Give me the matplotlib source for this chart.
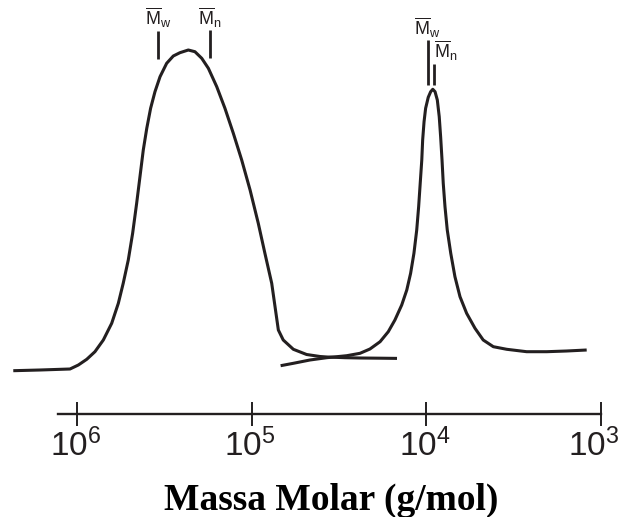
import numpy as np
import matplotlib
matplotlib.use("Agg")
import matplotlib.pyplot as plt
import matplotlib.transforms as mtransforms

plt.rcParams['mathtext.fontset'] = 'custom'
plt.rcParams['mathtext.rm'] = 'Liberation Sans'
plt.rcParams['mathtext.it'] = 'Liberation Sans:italic'
plt.rcParams['mathtext.bf'] = 'Liberation Sans:bold'
plt.rcParams['font.family'] = ['Liberation Sans', 'DejaVu Sans']

INK = '#231f20'

# ---- data (log10 of molar mass, detector signal in arbitrary units) ----
peak1_logM = [6.368, 6.215, 6.043, 5.995, 5.947, 5.900, 5.852, 5.804, 5.766, 5.738,
              5.709, 5.684, 5.661, 5.642, 5.623, 5.603, 5.581, 5.556, 5.527, 5.489,
              5.451, 5.413, 5.365, 5.327, 5.288, 5.250, 5.202, 5.155, 5.107, 5.059,
              5.011, 4.964, 4.926, 4.887, 4.849, 4.821, 4.763, 4.687, 4.610, 4.570,
              4.467, 4.381, 4.266, 4.169]
peak1_signal = [0.3, 1, 2, 6, 11.7, 19.3, 31, 47.7, 67.7, 87.7,
                111, 137.7, 167.7, 194.3, 221, 242.7, 262.7, 279.3, 294.3, 307.7,
                315, 318.3, 321, 319.3, 312.7, 302.7, 284.3, 262.7, 237.7, 211,
                181, 147.7, 117.7, 87.7, 41, 31, 21.7, 16.5, 14.5, 14,
                13.3, 13, 12.8, 12.6]

peak2_logM = [4.836, 4.763, 4.668, 4.572, 4.457, 4.381, 4.324, 4.266, 4.219, 4.181,
              4.142, 4.113, 4.091, 4.072, 4.056, 4.045, 4.036, 4.027, 4.022, 4.014,
              4.005, 3.990, 3.976, 3.964, 3.951, 3.938, 3.927, 3.919, 3.911, 3.904,
              3.894, 3.881, 3.861, 3.837, 3.808, 3.770, 3.722, 3.675, 3.617, 3.540,
              3.426, 3.311, 3.197, 3.082]
peak2_signal = [5.3, 7.7, 11, 13.3, 15.3, 17.7, 22, 29.3, 39.3, 51,
                66, 81, 97.7, 117.7, 141, 164.3, 187.7, 211, 231, 249.3,
                262.7, 273.7, 279.3, 281.7, 279.3, 271, 254.3, 234.3, 211, 187.7,
                164.3, 141, 117.7, 94.3, 74.3, 57.7, 42.7, 31, 24.3, 21.7,
                19.3, 19.3, 20, 21]

# average molar masses (log10) and marker extents (signal units)
marker_labels = [r'$\overline{\mathrm{M}}_{\mathrm{w}}$', r'$\overline{\mathrm{M}}_{\mathrm{n}}$',
                 r'$\overline{\mathrm{M}}_{\mathrm{w}}$', r'$\overline{\mathrm{M}}_{\mathrm{n}}$']
marker_logM = [5.539, 5.241, 3.994, 3.957]
marker_bottom = [312, 313, 286, 286]
marker_top = [340, 341, 331, 307]
label_y = [346, 346, 336, 313]
label_ha = ['center', 'center', 'center', 'left']

tick_values = [1e6, 1e5, 1e4, 1e3]
tick_labels = [r'$\mathrm{10^{6}}$', r'$\mathrm{10^{5}}$', r'$\mathrm{10^{4}}$', r'$\mathrm{10^{3}}$']
xlabel = 'Massa Molar (g/mol)'

# ---- figure ----
W, H = 623, 517
fig = plt.figure(figsize=(W / 100, H / 100), dpi=100)
ax = fig.add_axes([0, 103 / H, 1, 414 / H])
ax.set_xscale('log')
ax.set_xlim(10 ** 6.4441, 10 ** 2.8739)
ax.set_ylim(-43, 371)

ax.plot(10 ** np.array(peak1_logM), peak1_signal, color=INK, lw=2.2,
        solid_joinstyle='round', solid_capstyle='butt')
ax.plot(10 ** np.array(peak2_logM), peak2_signal, color=INK, lw=2.2,
        solid_joinstyle='round', solid_capstyle='butt')

for lab, lm, yb, yt, ly, ha in zip(marker_labels, marker_logM, marker_bottom,
                                   marker_top, label_y, label_ha):
    xm = 10 ** lm
    ax.vlines(xm, yb, yt, color=INK, lw=2.0)
    ax.text(xm, ly, lab, ha=ha, va='baseline', fontsize=13, color=INK)

for s in ['left', 'right', 'top']:
    ax.spines[s].set_visible(False)
ax.spines['bottom'].set_linewidth(1.7)
ax.spines['bottom'].set_color(INK)
ax.spines['bottom'].set_bounds(10 ** 6.1135, 1e3)
ax.set_yticks([])
ax.set_xticks(tick_values)
ax.set_xticklabels(tick_labels)
ax.minorticks_off()
ax.tick_params(axis='x', which='major', direction='inout', length=17.3, width=1.4,
               color=INK, labelcolor=INK, labelsize=24, pad=2)
ax.patch.set_alpha(0)

# nudge tick labels slightly left like the reference (last one kept inside the canvas)
shifts = [-2, -2, -2, -7]
for lbl, dx in zip(ax.get_xticklabels(), shifts):
    lbl.set_transform(lbl.get_transform() +
                      mtransforms.ScaledTranslation(dx / 100, 0, fig.dpi_scale_trans))

fig.text(331.5 / W, 7 / H, xlabel, ha='center', va='baseline',
         fontsize=27, fontweight='bold', family=['Liberation Serif'], color='black')

fig.savefig('out.png', dpi=100)
